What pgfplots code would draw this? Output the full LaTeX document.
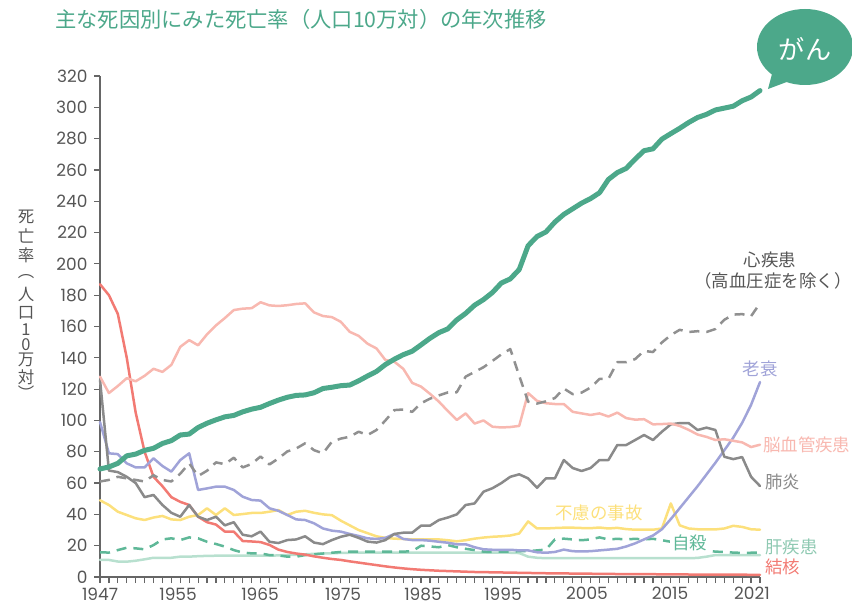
\documentclass[border=0pt]{standalone}
\usepackage{fontspec}
\usepackage{pgfplots}
\pgfplotsset{compat=1.18}
\usepackage{pgfplotstable}
\setmainfont{Poppins}
\newfontfamily\jp{Noto Sans CJK JP}

\definecolor{gan}{HTML}{4CA88A}
\definecolor{heart}{HTML}{909090}
\definecolor{cereb}{HTML}{F8B8B0}
\definecolor{pneu}{HTML}{8A8A8A}
\definecolor{senil}{HTML}{A0A3D8}
\definecolor{accid}{HTML}{FCE07C}
\definecolor{suic}{HTML}{5FB898}
\definecolor{liver}{HTML}{B8E0CF}
\definecolor{liverlab}{HTML}{8FC9B2}
\definecolor{tb}{HTML}{F27A73}
\definecolor{axgray}{HTML}{666666}
\definecolor{txtgray}{HTML}{555555}

% death rates per 100,000 population
\pgfplotstableread{
yr can ht cv pn sn ac sc lv tb
1947 69.0 61.0 128.0 126.0 99.0 49.0 15.8 10.9 187.0
1948 70.3 62.0 117.5 68.0 79.0 46.0 15.6 10.9 180.0
1949 72.6 64.0 122.0 67.0 78.5 41.7 17.2 9.9 168.0
1950 77.4 63.0 127.0 64.0 72.6 39.6 18.7 9.8 140.0
1951 78.5 62.0 125.0 60.0 70.0 37.5 18.3 10.4 105.0
1952 80.9 61.0 128.5 51.0 70.0 36.4 17.7 11.3 80.0
1953 82.2 65.0 133.0 52.4 75.8 38.0 20.4 12.3 64.0
1954 85.3 62.0 131.0 46.0 70.9 39.0 24.0 12.3 58.0
1955 87.1 61.0 135.5 41.0 67.3 36.8 24.7 12.3 51.0
1956 90.7 66.0 147.0 38.5 74.7 36.4 23.6 13.0 48.0
1957 91.3 72.6 151.3 46.0 79.0 38.5 25.3 13.0 46.0
1958 95.5 64.5 148.0 38.5 55.6 39.6 24.7 13.3 38.5
1959 98.2 67.9 155.0 36.4 56.6 43.9 22.5 13.5 35.0
1960 100.4 73.2 160.7 38.5 57.7 39.6 21.1 13.6 33.5
1961 102.3 72.1 165.4 33.0 57.7 43.9 19.4 13.6 29.0
1962 103.2 76.2 170.5 35.0 55.6 39.6 17.2 13.6 29.0
1963 105.5 70.0 171.4 27.0 51.3 40.2 15.6 13.6 23.0
1964 107.2 72.2 171.7 26.0 49.2 40.9 15.1 13.6 22.7
1965 108.4 77.0 175.5 29.0 48.8 40.9 15.1 13.6 22.3
1966 110.8 71.9 173.5 22.5 43.9 41.7 14.0 13.6 20.5
1967 113.0 75.7 173.1 21.7 42.3 42.8 13.8 13.8 17.5
1968 114.8 80.2 173.6 23.6 39.6 39.6 13.0 14.0 16.0
1969 116.0 82.1 174.4 24.0 36.8 41.7 13.0 14.2 15.0
1970 116.3 85.4 174.8 26.0 36.4 42.3 14.0 14.5 14.3
1971 117.7 81.0 169.0 22.0 34.3 41.0 14.5 14.8 13.2
1972 120.4 79.0 166.7 21.0 31.0 40.0 15.0 15.0 12.3
1973 121.2 86.4 166.0 23.6 29.6 39.5 15.5 15.2 11.5
1974 122.2 88.4 163.0 25.7 29.0 36.0 16.0 15.4 10.9
1975 122.6 89.6 156.6 27.0 27.5 33.0 16.2 15.5 10.0
1976 125.3 92.8 154.0 25.0 26.2 30.0 16.2 15.5 9.2
1977 128.4 90.7 149.0 22.6 24.7 28.0 16.2 15.5 8.4
1978 131.3 93.9 146.0 22.0 24.3 26.0 16.2 15.5 7.6
1979 135.7 100.0 138.6 23.6 25.0 25.0 16.2 15.5 6.8
1980 139.1 106.6 137.5 27.5 27.5 24.5 16.2 15.5 6.1
1981 142.0 107.0 133.0 28.3 24.3 24.3 16.2 15.5 5.5
1982 144.2 105.5 124.0 28.3 23.6 24.0 16.5 15.5 5.0
1983 148.3 111.0 121.6 32.8 23.6 24.0 20.0 15.5 4.6
1984 152.5 113.9 117.0 32.8 23.2 24.0 19.5 15.5 4.3
1985 156.1 116.0 112.0 36.4 22.5 24.0 19.0 15.5 4.0
1986 158.5 117.9 106.0 38.0 21.9 23.5 20.4 15.5 3.8
1987 164.2 118.0 100.3 40.0 20.9 22.8 19.0 15.5 3.6
1988 168.4 128.0 104.5 46.0 20.9 23.5 18.0 15.5 3.4
1989 173.6 131.0 98.0 47.0 19.0 24.5 17.2 15.5 3.2
1990 177.2 134.0 100.0 54.5 17.7 25.2 16.2 15.5 3.1
1991 181.7 138.0 96.0 56.7 17.4 25.7 16.0 15.5 3.0
1992 187.8 142.2 95.5 60.0 17.4 26.0 16.2 15.5 2.9
1993 190.4 145.6 95.8 64.0 17.4 26.5 16.3 15.5 2.8
1994 196.4 128.6 96.5 65.6 17.0 27.8 16.5 15.3 2.7
1995 211.6 112.0 117.5 63.0 17.0 35.5 16.5 13.0 2.6
1996 217.5 110.8 112.5 57.0 15.8 31.0 17.0 12.3 2.5
1997 220.4 112.2 111.0 63.0 15.5 31.0 17.5 12.0 2.4
1998 226.7 114.3 110.5 63.0 16.0 31.3 24.0 12.0 2.3
1999 231.6 120.4 110.5 74.7 17.5 31.5 24.5 12.0 2.3
2000 235.2 116.8 105.5 69.6 16.5 31.5 24.0 12.0 2.2
2001 238.8 117.8 104.5 67.7 16.3 31.3 23.5 12.0 2.1
2002 241.7 121.0 103.5 69.6 16.5 31.2 24.0 12.0 2.1
2003 245.4 126.5 104.5 74.7 17.0 31.6 25.3 12.0 2.0
2004 253.9 126.5 102.5 74.7 17.5 31.0 24.0 12.0 2.0
2005 258.3 137.2 105.0 84.3 18.0 31.4 24.4 12.0 1.9
2006 261.0 137.2 101.5 84.3 19.5 30.6 24.0 12.0 1.9
2007 266.9 139.2 100.5 87.5 21.5 30.2 24.4 12.0 1.8
2008 272.3 144.4 100.8 90.7 24.0 30.3 24.0 12.0 1.8
2009 273.5 143.7 97.5 87.5 26.5 30.2 24.4 12.0 1.8
2010 279.7 149.8 97.7 92.8 30.5 31.0 23.5 12.0 1.7
2011 283.2 154.5 98.0 97.5 37.0 47.0 22.5 12.0 1.7
2012 286.6 157.9 96.5 98.3 44.0 33.0 20.5 12.0 1.7
2013 290.3 156.5 94.0 98.3 51.0 31.0 19.5 12.0 1.6
2014 293.5 157.0 91.0 93.9 58.0 30.5 18.5 12.2 1.6
2015 295.5 156.5 89.5 95.4 65.5 30.4 17.0 13.0 1.6
2016 298.3 158.4 87.5 93.9 73.0 30.4 16.2 14.0 1.5
2017 299.5 164.3 88.0 76.8 81.0 31.0 16.0 14.0 1.5
2018 300.7 167.6 87.0 75.3 89.0 32.7 15.6 14.0 1.5
2019 304.2 167.9 86.0 76.6 98.5 32.0 15.4 14.0 1.5
2020 306.6 166.6 83.0 64.0 110.0 30.5 15.5 14.0 1.4
2021 310.7 174.9 84.5 58.1 124.5 30.2 15.5 14.0 1.4
}\rates

\begin{document}
\begin{tikzpicture}[x=1bp, y=1bp]
\begin{axis}[
    at={(100bp,-577bp)}, anchor=south west,
    width=660bp, height=501bp, scale only axis,
    xmin=1947, xmax=2021, ymin=0, ymax=320,
    axis x line*=bottom, axis y line*=left,
    axis line style={draw=axgray, line width=1.6bp},
    tick style={draw=axgray, line width=1.2bp},
    tick align=outside, major tick length=6bp,
    ytick={0,20,...,320},
    yticklabel style={xshift=-3bp},
    xtick={1947,...,2021}, xticklabel=\empty,
    extra x ticks={1947,1955.75,1964.94,1974.25,1983.21,1992.18,2001.6,2010.91,2020.1},
    extra x tick labels={1947,1955,1965,1975,1985,1995,2005,2015,2021},
    extra x tick style={major tick length=0pt, xticklabel style={yshift=-7bp}},
    tick label style={font=\fontsize{17}{17}\selectfont, text=txtgray},
    /pgf/number format/assume math mode=true,
    clip=false,
    every axis plot/.append style={line join=round, line cap=round},
  ]
  \addplot[liver, line width=2.5bp] table[x=yr, y=lv]{\rates};
  \addplot[suic, line width=2.5bp, dash pattern=on 10bp off 7bp, line cap=butt] table[x=yr, y=sc]{\rates};
  \addplot[tb, line width=2.5bp] table[x=yr, y=tb]{\rates};
  \addplot[accid, line width=2.5bp] table[x=yr, y=ac]{\rates};
  \addplot[senil, line width=2.5bp] table[x=yr, y=sn]{\rates};
  \addplot[pneu, line width=2.5bp] table[x=yr, y=pn]{\rates};
  \addplot[cereb, line width=2.5bp] table[x=yr, y=cv]{\rates};
  \addplot[heart, line width=2.5bp, dash pattern=on 10bp off 7bp, line cap=butt] table[x=yr, y=ht]{\rates};
  \addplot[gan, line width=5bp] table[x=yr, y=can]{\rates};
\end{axis}

% title
\node[anchor=west, inner sep=0pt, text=gan, font=\jp\fontsize{17.5}{17.5}\selectfont,
      scale=1.22, transform shape] at (55,-19)
  {主な死因別にみた死亡率（人口10万対）の年次推移};

% vertical y label
\foreach \c/\yy in {死/217,亡/236,率/255,︵/277,人/294,口/313,1/330,0/345,万/360,対/377,︶/393}
  \node[inner sep=0pt, text=txtgray, font=\jp\fontsize{16.5}{16.5}\selectfont] at (26,-\yy) {\c};

% series labels
\begin{scope}[every node/.style={inner sep=0pt, font=\jp\fontsize{17.5}{17.5}\selectfont}]
  \node[text=txtgray] at (770,-260) {心疾患};
  \node[text=txtgray] at (773,-281) {（高血圧症を除く）};
  \node[text=senil] at (760,-369) {老衰};
  \node[text=cereb, anchor=west] at (763,-445) {脳血管疾患};
  \node[text=pneu, anchor=west] at (765,-482) {肺炎};
  \node[text=accid] at (599,-513) {不慮の事故};
  \node[text=suic, fill=white, inner sep=2pt] at (689.5,-543) {自殺};
  \node[text=liverlab, anchor=west] at (765,-547) {肝疾患};
  \node[text=tb, anchor=west] at (765,-567) {結核};
\end{scope}

% speech bubble
\fill[gan] (772,-74) -- (768,-89) -- (792,-80) -- cycle;
\fill[gan] (805,-47) ellipse [x radius=48bp, y radius=38bp];
\node[text=white, font=\jp\fontsize{17.5}{17.5}\selectfont, scale=1.5, transform shape] at (805,-49) {がん};

\pgfresetboundingbox
\useasboundingbox (0,0) rectangle (852,-606);
\end{tikzpicture}
\end{document}
